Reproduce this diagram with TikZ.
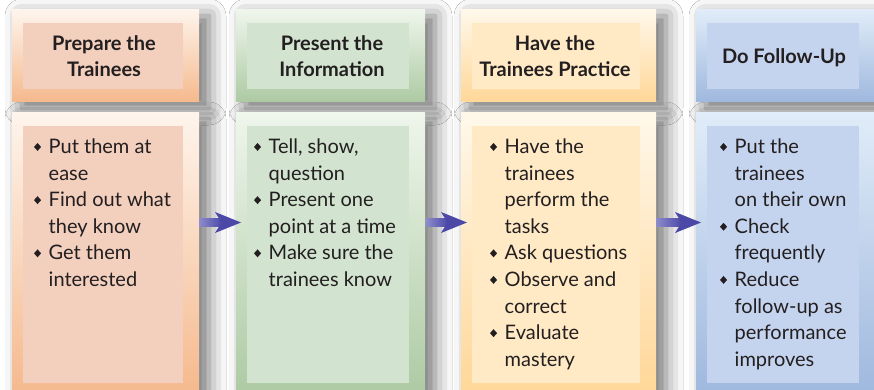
\documentclass[tikz,border=0pt]{standalone}
\usepackage{fontspec}
\usepackage{graphicx}
\setmainfont{Lato}
\usetikzlibrary{shadows.blur,calc}

\definecolor{aTop}{HTML}{FEF4EC}\definecolor{aBot}{HTML}{F5B98D}\definecolor{aIn}{HTML}{F3CFBE}
\definecolor{bTop}{HTML}{EFF6EC}\definecolor{bBot}{HTML}{ADCAA3}\definecolor{bIn}{HTML}{D2E3CF}
\definecolor{cTop}{HTML}{FFF8EA}\definecolor{cBot}{HTML}{FFD798}\definecolor{cIn}{HTML}{FFEAC5}
\definecolor{dTop}{HTML}{E0ECF8}\definecolor{dBot}{HTML}{9FB8DE}\definecolor{dIn}{HTML}{C5D4EE}
\definecolor{arrL}{HTML}{8E8CCB}\definecolor{arrR}{HTML}{4B48A8}
\definecolor{txt}{HTML}{231F20}

\newcommand\dmd{\makebox[15.5pt][l]{\hspace*{0.8pt}\raisebox{2.6pt}{\scalebox{1}[1.12]{\rotatebox{45}{\rule{5pt}{5pt}}}}}}
\newcommand\cnt{\hspace*{15.5pt}}
\newcommand\rbox[6]{\node[#6, minimum width={(#4)-(#2)}, minimum height={(#5)-(#3)}] (#1) at ({((#2)+(#4))/2},{((#3)+(#5))/2}) {};}
\newcommand\flowarrow[2]{%
  \shade[left color=arrL, right color=arrR] ($(#1)+(0,-3.8)$) rectangle ($(#2)+(-19,3.8)$);
  \fill[arrR] (#2) -- ($(#2)+(-26,-10.5)$) -- ($(#2)+(-19.5,0)$) -- ($(#2)+(-26,10.5)$) -- cycle;}

\begin{document}
\begin{tikzpicture}[x=1pt,y=-1pt,
  outerbox/.style={inner sep=0pt, outer sep=0pt,
    blur shadow={shadow xshift=10pt, shadow yshift=-6pt, shadow blur radius=17pt, shadow opacity=55}},
  innerbox/.style={inner sep=0pt, outer sep=0pt},
  head/.style={inner sep=0pt, text=txt, font=\bfseries\fontsize{20}{26}\selectfont},
  body/.style={inner sep=0pt, anchor=base west, text=txt, font=\fontsize{20}{26.6}\selectfont}]
\useasboundingbox (0,0) rectangle (874,390);
\fill[white] (0,0) rectangle (874,390);

% outer boxes
\rbox{h1}{12}{10}{199}{102}{outerbox, top color=aTop, bottom color=aBot}
\rbox{b1}{12}{113}{199}{394}{outerbox, top color=aTop, bottom color=aBot}
\rbox{h2}{236}{10}{425}{102}{outerbox, top color=bTop, bottom color=bBot}
\rbox{b2}{236}{113}{425}{394}{outerbox, top color=bTop, bottom color=bBot}
\rbox{h3}{461}{10}{656}{102}{outerbox, top color=cTop, bottom color=cBot}
\rbox{b3}{461}{113}{656}{394}{outerbox, top color=cTop, bottom color=cBot}
\rbox{h4}{696}{10}{880}{102}{outerbox, top color=dTop, bottom color=dBot}
\rbox{b4}{696}{113}{880}{394}{outerbox, top color=dTop, bottom color=dBot}

% inner boxes
\rbox{hi1}{23}{23}{183}{89}{innerbox, fill=aIn}
\rbox{bi1}{23}{126}{183}{383}{innerbox, fill=aIn}
\rbox{hi2}{247}{23}{409}{89}{innerbox, fill=bIn}
\rbox{bi2}{247}{126}{409}{383}{innerbox, fill=bIn}
\rbox{hi3}{472}{23}{640}{89}{innerbox, fill=cIn}
\rbox{bi3}{472}{126}{640}{383}{innerbox, fill=cIn}
\rbox{hi4}{707}{23}{859}{89}{innerbox, fill=dIn}
\rbox{bi4}{707}{126}{859}{383}{innerbox, fill=dIn}

% headings
\node[head, anchor=base] (t1) at (104,51) {\begin{tabular}[t]{@{}c@{}}Prepare the\\Trainees\end{tabular}};
\node[head, anchor=base] (t2) at (332,51) {\begin{tabular}[t]{@{}c@{}}Present the\\Information\end{tabular}};
\node[head, anchor=base] (t3) at (555,51) {\begin{tabular}[t]{@{}c@{}}Have the\\Trainees Practice\end{tabular}};
\node[head, anchor=base] (t4) at (784,64) {Do Follow-Up};

% bullet texts
\node[body] (l1) at (33,153.5) {\begin{tabular}[t]{@{}l@{}}
\dmd Put them at\\ \cnt ease\\ \dmd Find out what\\ \cnt they know\\ \dmd Get them\\ \cnt interested\end{tabular}};
\node[body] (l2) at (253,153.5) {\begin{tabular}[t]{@{}l@{}}
\dmd Tell, show,\\ \cnt question\\ \dmd Present one\\ \cnt point at a time\\ \dmd Make sure the\\ \cnt trainees know\end{tabular}};
\node[body] (l3) at (489,153.5) {\begin{tabular}[t]{@{}l@{}}
\dmd Have the\\ \cnt trainees\\ \cnt perform the\\ \cnt tasks\\ \dmd Ask questions\\ \dmd Observe and\\ \cnt correct\\ \dmd Evaluate\\ \cnt mastery\end{tabular}};
\node[body] (l4) at (719,153.5) {\begin{tabular}[t]{@{}l@{}}
\dmd Put the\\ \cnt trainees\\ \cnt on their own\\ \dmd Check\\ \cnt frequently\\ \dmd Reduce\\ \cnt follow-up as\\ \cnt performance\\ \cnt improves\end{tabular}};

% arrows
\path (b1.east) ++(0,-31) coordinate (s1);
\path (b2.west) ++(5,-31) coordinate (e1);
\path (b2.east) ++(1,-31) coordinate (s2);
\path (b3.west) ++(6,-31) coordinate (e2);
\path (b3.east) ++(0,-31) coordinate (s3);
\path (b4.west) ++(5,-31) coordinate (e3);
\flowarrow{s1}{e1}
\flowarrow{s2}{e2}
\flowarrow{s3}{e3}
\end{tikzpicture}
\end{document}
